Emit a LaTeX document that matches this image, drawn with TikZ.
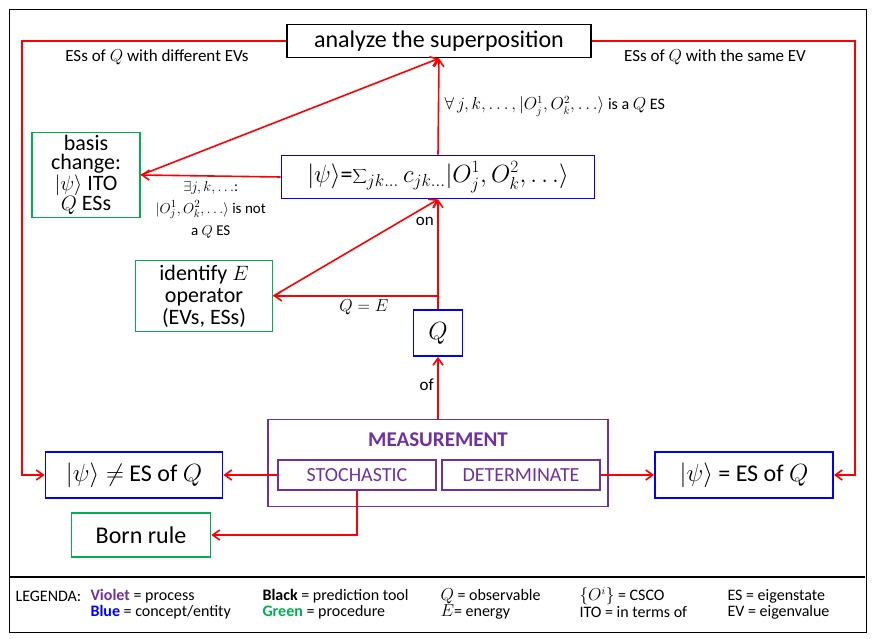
\documentclass[tikz,border=0pt]{standalone}
\usepackage{fontspec}
\setmainfont{Carlito}
\usetikzlibrary{arrows.meta,positioning}
\definecolor{violetc}{RGB}{112,48,160}
\definecolor{bluec}{RGB}{0,0,255}
\definecolor{greenc}{RGB}{0,176,80}
\tikzset{
  box/.style={draw, line width=1.8pt, inner sep=2pt, align=center, font=\fontsize{24}{24}\selectfont},
  concept/.style={box, draw=bluec},
  proc/.style={box, draw=greenc},
  tool/.style={box, draw=black},
  sub/.style={draw=violetc, line width=1.2pt, text=violetc, minimum width=158pt, minimum height=30pt, font=\fontsize{20}{20}\selectfont},
  link/.style={red, line width=1.6pt, -{Straight Barb[length=7pt,width=10pt]}},
  lab/.style={text=black, font=\fontsize{17}{20}\selectfont, align=center}
}
\begin{document}
\begin{tikzpicture}[x=1pt,y=-1pt]
  \useasboundingbox (0,0) rectangle (877,639);
  \draw[line width=0.8pt] (9,9) rectangle (866,632);
  \draw[line width=2pt] (10,577) -- (865,577);

  % nodes
  \node[tool, minimum width=304pt, minimum height=33pt] (analyze) at (439,41) {analyze the superposition};
  \node[concept, minimum width=313pt, minimum height=43pt] (psi) at (438,177)
    {$|\psi\rangle$=$\displaystyle\sum\nolimits_{jk\ldots} c_{jk\ldots}|O^1_j,O^2_k,\ldots\rangle$};
  \node[proc, minimum width=108pt, minimum height=85pt, font=\fontsize{22}{19}\selectfont] (basis) at (86,175)
    {basis\\change:\\$|\psi\rangle$ ITO\\$Q$ ESs};
  \node[proc, minimum width=137pt, minimum height=71pt, font=\fontsize{22}{22}\selectfont] (ident) at (204,296)
    {identify $E$\\operator\\(EVs, ESs)};
  \node[concept, minimum width=49pt, minimum height=46pt] (Q) at (438,333) {$Q$};
  \node[draw=violetc, line width=1.2pt, minimum width=340pt, minimum height=87pt] (meas) at (438,463) {};
  \node[text=violetc, font=\bfseries\fontsize{21}{21}\selectfont] (mtitle) at (438,440) {MEASUREMENT};
  \node[sub] (stoch) at (357,475) {STOCHASTIC};
  \node[sub] (determ) at (521,475) {DETERMINATE};
  \node[concept, minimum width=177pt, minimum height=46pt] (notes) at (134,475) {$|\psi\rangle \neq$ ES of $Q$};
  \node[concept, minimum width=178pt, minimum height=46pt] (ises) at (744,475) {$|\psi\rangle$ = ES of $Q$};
  \node[proc, minimum width=139pt, minimum height=44pt] (born) at (141,535) {Born rule};

  % connectors
  \draw[link] (meas.north) -- node[lab, left, pos=0.55] {of} (Q.south);
  \draw[link] (Q.north) -- node[lab, left, pos=0.8] {on} (psi.south);
  \coordinate (qe) at (Q.north |- ident.east);
  \draw[link] (qe) -- node[lab, below, pos=0.45] {$Q=E$} (ident.east);
  \draw[link] (ident.east) -- (psi.south);
  \draw[link] (psi.north) -- node[lab, right, xshift=2pt, font=\fontsize{16}{20}\selectfont] {$\forall\, j,k,\ldots,|O^1_j,O^2_k,\ldots\rangle$ is a $Q$ ES} (analyze.south);
  \draw[link] (psi.west) -- node[lab, below, yshift=-1pt, font=\fontsize{15}{22}\selectfont] {$\exists j,k,\ldots$:\\$|O^1_j,O^2_k,\ldots\rangle$ is not\\a $Q$ ES} (basis.east);
  \draw[link] (basis.east) -- (analyze.south);
  \draw[link] (stoch.west) -- (notes.east);
  \draw[link] (determ.east) -- (ises.west);
  \draw[link] (stoch.south) |- (born.east);
  \draw[link] (analyze.west) -| (22,475) -- (notes.west);
  \draw[link] (analyze.east) -| (855,475) -- (ises.east);
  \node[lab] (ldiff) at (157,57) {ESs of $Q$ with different EVs};
  \node[lab] (lsame) at (715,57) {ESs of $Q$ with the same EV};

  % legend
  \begin{scope}[every node/.style={anchor=west, font=\fontsize{16}{16}\selectfont}]
    \node (leg) at (12,596) {LEGENDA:};
    \node at (87,596) {\textcolor{violetc}{\textbf{Violet}} = process};
    \node at (87,612) {\textcolor{bluec}{\textbf{Blue}} = concept/entity};
    \node at (259,596) {\textbf{Black} = prediction tool};
    \node at (259,612) {\textcolor{greenc}{\textbf{Green}} = procedure};
    \node at (437,596) {$Q$ = observable};
    \node at (437,612) {$E$= energy};
    \node at (576,596) {$\{O^i\}$ = CSCO};
    \node at (576,612) {ITO = in terms of};
    \node at (724,596) {ES = eigenstate};
    \node at (724,612) {EV = eigenvalue};
  \end{scope}
\end{tikzpicture}
\end{document}
